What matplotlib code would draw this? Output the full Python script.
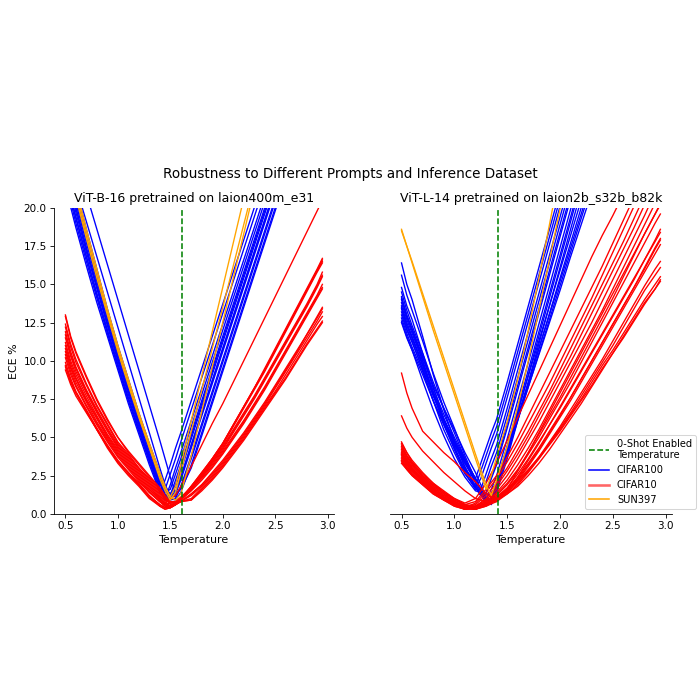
import matplotlib
matplotlib.use("Agg")
import matplotlib.pyplot as plt
from matplotlib.lines import Line2D

# ---- ViT-B-16 / laion400m_e31 ----
temps_b16_c100 = [0.5, 0.6, 0.7, 0.8, 0.9, 1.0, 1.1, 1.2, 1.3, 1.4, 1.45, 1.5, 1.55, 1.6,
                  1.7, 1.8, 1.9, 2.0, 2.1, 2.2, 2.3, 2.4, 2.5, 2.6, 2.7]
ece_b16_cifar100 = [
    [21.4, 18.7, 16.2, 13.8, 11.6, 9.4, 7.2, 5.2, 3.2, 1.4, 2.2, 3.2, 4.3, 5.3, 7.4, 9.5, 11.6, 13.7, 15.8, 17.9, 20.0, 22.1, 24.2, 26.3, 28.4],
    [21.8, 19.0, 16.5, 14.1, 11.8, 9.6, 7.4, 5.4, 3.4, 1.5, 1.0, 1.9, 3.0, 4.0, 6.1, 8.2, 10.3, 12.4, 14.5, 16.6, 18.7, 20.8, 22.9, 25.0, 27.1],
    [22.1, 19.4, 16.8, 14.4, 12.0, 9.8, 7.6, 5.5, 3.6, 1.7, 0.9, 1.2, 2.2, 3.2, 5.3, 7.4, 9.5, 11.6, 13.7, 15.8, 17.9, 20.0, 22.1, 24.2, 26.3],
    [22.0, 19.3, 16.8, 14.3, 12.0, 9.7, 7.5, 5.5, 3.5, 1.7, 0.9, 0.9, 1.4, 2.4, 4.5, 6.6, 8.7, 10.8, 12.9, 15.0, 17.1, 19.2, 21.3, 23.4, 25.5],
    [22.5, 19.7, 17.1, 14.7, 12.3, 10.0, 7.8, 5.7, 3.7, 1.9, 1.6, 2.6, 3.6, 4.7, 6.8, 8.9, 11.0, 13.1, 15.2, 17.3, 19.4, 21.5, 23.6, 25.7, 27.8],
    [22.8, 20.0, 17.4, 14.9, 12.5, 10.2, 8.0, 5.9, 3.9, 2.0, 1.2, 1.0, 1.8, 2.8, 4.9, 7.0, 9.1, 11.2, 13.3, 15.4, 17.5, 19.6, 21.7, 23.8, 25.9],
    [22.7, 20.0, 17.3, 14.9, 12.4, 10.1, 8.0, 5.9, 3.8, 2.0, 1.3, 0.9, 1.0, 1.8, 3.8, 5.9, 8.0, 10.1, 12.2, 14.3, 16.4, 18.5, 20.6, 22.7, 24.8],
    [23.1, 20.3, 17.7, 15.2, 12.7, 10.4, 8.2, 6.1, 4.1, 2.2, 1.4, 1.6, 2.6, 3.6, 5.7, 7.8, 9.9, 12.0, 14.1, 16.2, 18.3, 20.4, 22.5, 24.6, 26.7],
    [23.5, 20.7, 18.0, 15.4, 13.0, 10.6, 8.4, 6.3, 4.3, 2.3, 1.5, 1.0, 1.3, 2.2, 4.3, 6.4, 8.5, 10.6, 12.7, 14.8, 16.9, 19.0, 21.1, 23.2, 25.3],
    [23.4, 20.6, 18.0, 15.4, 12.9, 10.6, 8.4, 6.2, 4.2, 2.3, 1.5, 1.0, 0.9, 1.4, 3.2, 5.3, 7.4, 9.5, 11.6, 13.7, 15.8, 17.9, 20.0, 22.1, 24.2],
    [23.8, 21.0, 18.3, 15.7, 13.2, 10.8, 8.6, 6.5, 4.4, 2.5, 1.7, 1.3, 1.9, 3.0, 5.1, 7.2, 9.3, 11.4, 13.5, 15.6, 17.7, 19.8, 21.9, 24.0, 26.1],
    [24.2, 21.3, 18.6, 16.0, 13.4, 11.0, 8.8, 6.6, 4.6, 2.7, 1.8, 1.2, 1.1, 1.7, 3.6, 5.7, 7.8, 9.9, 12.0, 14.1, 16.2, 18.3, 20.4, 22.5, 24.6],
    [23.7, 21.4, 19.1, 16.8, 14.5, 12.2, 9.9, 7.6, 5.3, 3.0, 1.9, 1.2, 1.4, 2.4, 4.5, 6.6, 8.7, 10.8, 12.9, 15.0, 17.1, 19.2, 21.3, 23.4, 25.5],
    [25.5, 23.2, 20.9, 18.6, 16.3, 14.0, 11.7, 9.4, 7.1, 4.8, 3.6, 2.4, 1.3, 1.6, 3.0, 5.1, 7.2, 9.3, 11.4, 13.5, 15.6, 17.7, 19.8, 21.9, 24.0],
]
ece_b16_sun397 = [
    [23.8, 21.0, 18.3, 15.7, 13.2, 10.8, 8.6, 6.5, 4.4, 2.5, 1.7, 1.1, 1.8, 3.2, 6.1, 9.0, 11.9, 14.8, 17.7, 20.6, 23.5, 26.4, 29.3, 32.2, 35.1],
    [24.2, 21.3, 18.6, 16.0, 13.4, 11.0, 8.8, 6.6, 4.6, 2.7, 1.8, 1.1, 0.9, 1.3, 3.8, 6.7, 9.6, 12.5, 15.4, 18.3, 21.2, 24.1, 27.0, 29.9, 32.8],
    [23.5, 20.7, 18.0, 15.4, 13.0, 10.6, 8.4, 6.3, 4.3, 2.3, 1.5, 0.9, 1.4, 2.7, 5.4, 8.1, 10.8, 13.5, 16.2, 18.9, 21.6, 24.3, 27.0, 29.7, 32.4],
]
temps_b16_c10 = [0.5, 0.55, 0.6, 0.7, 0.8, 0.9, 1.0, 1.1, 1.2, 1.3, 1.4, 1.45, 1.5, 1.55, 1.6,
                 1.7, 1.8, 1.9, 2.0, 2.1, 2.2, 2.3, 2.4, 2.5, 2.6, 2.7, 2.8, 2.9, 2.95]
ece_b16_cifar10 = [
    [13.0, 11.6, 10.6, 9.0, 7.5, 6.2, 5.0, 4.1, 3.3, 2.5, 1.7, 1.2, 0.8, 0.7, 1.0, 1.8, 2.7, 3.6, 4.6, 5.8, 7.0, 8.2, 9.4, 10.7, 12.0, 13.3, 14.6, 15.9, 16.6],
    [12.4, 11.1, 10.1, 8.5, 7.1, 5.9, 4.7, 3.9, 3.0, 2.3, 1.5, 1.0, 0.6, 0.7, 1.0, 1.8, 2.6, 3.5, 4.5, 5.7, 6.9, 8.1, 9.3, 10.6, 11.9, 13.2, 14.5, 15.8, 16.4],
    [11.7, 10.4, 9.5, 8.0, 6.7, 5.5, 4.4, 3.6, 2.8, 2.0, 1.2, 0.8, 0.5, 0.7, 1.0, 1.7, 2.5, 3.4, 4.3, 5.4, 6.5, 7.6, 8.8, 10.0, 11.2, 12.4, 13.6, 14.9, 15.6],
    [11.0, 9.8, 8.9, 7.5, 6.3, 5.1, 4.1, 3.3, 2.5, 1.7, 1.0, 0.6, 0.4, 0.6, 0.9, 1.7, 2.6, 3.6, 4.6, 5.8, 7.0, 8.2, 9.5, 10.8, 12.1, 13.4, 14.7, 16.0, 16.7],
    [10.4, 9.3, 8.4, 7.1, 5.9, 4.8, 3.8, 3.0, 2.2, 1.4, 0.8, 0.5, 0.4, 0.6, 0.9, 1.6, 2.4, 3.3, 4.2, 5.3, 6.4, 7.5, 8.7, 9.9, 11.1, 12.3, 13.5, 14.8, 15.5],
    [9.9, 8.85, 8.0, 6.8, 5.6, 4.5, 3.5, 2.7, 2.0, 1.2, 0.6, 0.4, 0.5, 0.7, 0.9, 1.5, 2.2, 3.0, 3.9, 4.9, 5.9, 7.0, 8.1, 9.3, 10.5, 11.7, 12.9, 14.1, 14.7],
    [9.4, 8.45, 7.7, 6.6, 5.5, 4.3, 3.3, 2.5, 1.8, 1.0, 0.5, 0.3, 0.4, 0.6, 0.8, 1.2, 1.8, 2.5, 3.3, 4.2, 5.1, 6.1, 7.1, 8.2, 9.3, 10.4, 11.5, 12.6, 13.2],
    [12.9, 11.5, 10.5, 8.9, 7.4, 6.1, 5.0, 4.0, 3.2, 2.4, 1.6, 1.1, 0.7, 0.8, 1.1, 1.7, 2.4, 3.2, 4.1, 5.1, 6.1, 7.2, 8.3, 9.5, 10.7, 11.9, 13.1, 14.3, 15.0],
    [12.2, 10.9, 9.9, 8.4, 7.0, 5.8, 4.6, 3.8, 3.0, 2.2, 1.4, 1.0, 0.8, 0.8, 0.8, 0.9, 1.6, 2.3, 3.1, 4.0, 4.9, 5.9, 6.9, 7.9, 8.9, 10.0, 11.1, 12.1, 12.6],
    [11.5, 10.3, 9.3, 7.9, 6.6, 5.4, 4.3, 3.5, 2.7, 1.9, 1.1, 0.7, 0.5, 0.6, 0.8, 1.3, 1.9, 2.6, 3.4, 4.3, 5.2, 6.2, 7.2, 8.3, 9.4, 10.5, 11.7, 12.9, 13.5],
    [10.8, 9.6, 8.8, 7.4, 6.2, 5.0, 4.0, 3.2, 2.4, 1.6, 0.9, 0.7, 1.0, 1.2, 1.8, 3.1, 4.5, 5.9, 7.2, 8.6, 10.0, 11.4, 12.8, 14.2, 15.6, 17.0, 18.4, 19.8, 20.5],
    [10.2, 9.1, 8.3, 7.0, 5.8, 4.7, 3.7, 2.9, 2.1, 1.4, 0.8, 0.6, 0.7, 0.8, 0.8, 1.0, 1.7, 2.4, 3.2, 4.1, 5.0, 6.0, 7.0, 8.0, 9.1, 10.2, 11.3, 12.4, 12.9],
    [9.7, 8.7, 7.9, 6.7, 5.5, 4.4, 3.4, 2.7, 1.9, 1.1, 0.6, 0.4, 0.4, 0.6, 0.9, 1.6, 2.5, 3.4, 4.4, 5.5, 6.6, 7.7, 8.9, 10.1, 11.3, 12.5, 13.7, 15.0, 15.8],
    [9.6, 8.6, 7.9, 6.7, 5.5, 4.4, 3.4, 2.6, 1.9, 1.1, 0.5, 0.3, 0.4, 0.6, 0.9, 1.8, 2.7, 3.6, 4.6, 5.8, 7.0, 8.2, 9.4, 10.7, 12.0, 13.3, 14.6, 15.9, 16.5],
    [11.9, 10.6, 9.6, 8.1, 6.8, 5.6, 4.5, 3.7, 2.9, 2.1, 1.3, 0.9, 0.7, 0.7, 0.8, 0.9, 1.5, 2.2, 3.0, 3.9, 4.8, 5.8, 6.8, 7.8, 8.8, 9.9, 11.0, 12.0, 12.5],
    [11.2, 10.0, 9.1, 7.7, 6.4, 5.2, 4.2, 3.4, 2.6, 1.8, 1.0, 0.6, 0.5, 0.6, 0.8, 1.3, 1.9, 2.7, 3.5, 4.4, 5.3, 6.3, 7.3, 8.4, 9.5, 10.6, 11.7, 12.8, 13.4],
    [10.6, 9.5, 8.6, 7.3, 6.0, 4.9, 3.9, 3.1, 2.3, 1.5, 0.8, 0.5, 0.5, 0.7, 1.0, 1.6, 2.3, 3.1, 4.0, 5.0, 6.0, 7.1, 8.2, 9.4, 10.6, 11.8, 13.0, 14.2, 14.8],
]
zero_shot_temp_b16 = 1.61

# ---- ViT-L-14 / laion2b_s32b_b82k ----
temps_l14_c100 = [0.5, 0.55, 0.6, 0.7, 0.8, 0.9, 1.0, 1.1, 1.2, 1.25, 1.3, 1.35, 1.4,
                  1.5, 1.6, 1.7, 1.8, 1.9, 2.0, 2.1, 2.2, 2.3, 2.4]
ece_l14_cifar100 = [
    [16.4, 15.0, 14.0, 11.6, 9.1, 6.8, 4.8, 3.0, 1.8, 2.8, 3.8, 4.8, 5.7, 8.1, 10.6, 13.1, 15.6, 18.1, 20.6, 23.1, 25.6, 28.1, 30.6],
    [15.6, 14.3, 13.3, 11.3, 9.2, 7.3, 5.6, 3.8, 2.2, 1.4, 0.6, 1.1, 2.0, 4.4, 6.9, 9.4, 11.9, 14.4, 16.9, 19.4, 21.9, 24.4, 26.9],
    [14.8, 13.6, 12.7, 10.5, 8.3, 6.2, 4.4, 2.8, 2.3, 3.3, 4.3, 5.3, 6.2, 8.6, 11.1, 13.6, 16.1, 18.6, 21.1, 23.6, 26.1, 28.6, 31.1],
    [14.5, 13.3, 12.3, 10.5, 8.6, 6.9, 5.3, 3.6, 2.0, 1.2, 1.3, 2.3, 3.2, 5.6, 8.1, 10.6, 13.1, 15.6, 18.1, 20.6, 23.1, 25.6, 28.1],
    [14.2, 13.0, 12.1, 10.3, 8.2, 6.5, 5.0, 3.6, 2.3, 1.6, 0.9, 1.0, 2.0, 4.1, 6.2, 8.3, 10.4, 12.5, 14.6, 16.8, 18.9, 21.0, 23.1],
    [14.0, 12.9, 12.0, 10.0, 7.8, 5.9, 4.2, 2.7, 1.6, 1.6, 2.6, 3.6, 4.5, 6.9, 9.4, 11.9, 14.4, 16.9, 19.4, 21.9, 24.4, 26.9, 29.4],
    [13.8, 12.7, 11.8, 10.0, 8.0, 6.2, 4.6, 3.1, 1.8, 1.2, 1.4, 2.4, 3.4, 5.9, 8.4, 10.9, 13.4, 15.9, 18.4, 20.9, 23.4, 25.9, 28.4],
    [13.6, 12.5, 11.6, 9.8, 7.9, 6.2, 4.8, 3.5, 2.3, 1.6, 1.0, 0.8, 1.4, 3.6, 6.1, 8.6, 11.1, 13.6, 16.1, 18.6, 21.1, 23.6, 26.1],
    [13.4, 12.3, 11.5, 9.7, 7.8, 6.1, 4.7, 3.4, 2.2, 1.5, 0.9, 0.7, 1.6, 3.9, 6.2, 8.5, 10.8, 13.1, 15.4, 17.7, 20.0, 22.3, 24.6],
    [13.2, 12.1, 11.3, 9.4, 7.4, 5.5, 4.0, 2.6, 1.7, 2.3, 3.3, 4.3, 5.2, 7.6, 10.1, 12.6, 15.1, 17.6, 20.1, 22.6, 25.1, 27.6, 30.1],
    [13.0, 12.0, 11.2, 9.5, 7.7, 6.1, 4.7, 3.3, 2.1, 1.5, 0.8, 1.0, 2.1, 4.4, 6.7, 9.0, 11.3, 13.6, 15.9, 18.2, 20.5, 22.8, 25.1],
    [12.8, 11.8, 10.9, 9.3, 7.4, 5.8, 4.3, 2.9, 1.7, 1.2, 1.0, 1.6, 2.5, 4.9, 7.4, 9.9, 12.4, 14.9, 17.4, 19.9, 22.4, 24.9, 27.4],
    [12.6, 11.6, 10.7, 8.7, 6.8, 5.1, 3.6, 2.4, 1.5, 1.4, 2.1, 3.1, 4.0, 6.4, 8.9, 11.4, 13.9, 16.4, 18.9, 21.4, 23.9, 26.4, 28.9],
    [12.5, 11.5, 10.7, 9.1, 7.4, 5.9, 4.5, 3.3, 2.2, 1.6, 1.0, 0.9, 2.0, 4.2, 6.4, 8.6, 10.8, 13.0, 15.2, 17.4, 19.6, 21.8, 24.0],
    [13.5, 12.3, 11.5, 9.7, 7.9, 6.2, 4.8, 3.5, 2.3, 1.6, 0.9, 0.6, 1.7, 4.1, 6.6, 9.1, 11.6, 14.1, 16.6, 19.1, 21.6, 24.1, 26.6],
    [14.1, 12.9, 12.0, 10.2, 8.4, 6.9, 5.5, 4.0, 2.7, 1.9, 1.1, 0.8, 1.7, 3.9, 6.1, 8.3, 10.5, 12.7, 14.9, 17.1, 19.3, 21.5, 23.7],
]
ece_l14_sun397 = [
    [18.6, 17.5, 16.4, 14.2, 12.0, 9.9, 7.8, 5.7, 3.6, 2.6, 1.6, 2.5, 3.7, 6.0, 8.8, 12.0, 15.4, 18.9, 22.5, 26.1, 29.7, 33.3, 36.9],
    [18.5, 17.5, 16.5, 14.4, 12.3, 10.2, 8.1, 6.0, 3.9, 2.9, 1.9, 1.2, 2.2, 4.4, 7.0, 10.0, 13.3, 16.6, 19.9, 23.3, 26.7, 30.1, 33.5],
]
temps_l14_c10 = [0.5, 0.55, 0.6, 0.7, 0.8, 0.9, 1.0, 1.1, 1.2, 1.3, 1.4, 1.5, 1.6, 1.7,
                 1.8, 1.9, 2.0, 2.1, 2.2, 2.3, 2.4, 2.5, 2.6, 2.7, 2.8, 2.9, 2.95]
ece_l14_cifar10 = [
    [4.7, 4.0, 3.5, 2.7, 2.0, 1.5, 1.0, 0.7, 1.0, 2.0, 3.3, 4.8, 6.3, 7.8, 9.3, 10.8, 12.3, 13.8, 15.3, 16.8, 18.2, 19.5, 20.9, 22.3, 23.7, 25.1, 25.8],
    [4.5, 3.8, 3.3, 2.5, 1.9, 1.4, 0.9, 0.6, 0.8, 1.6, 2.5, 3.7, 5.0, 6.4, 7.8, 9.2, 10.6, 12.0, 13.4, 14.8, 16.2, 17.7, 19.2, 20.7, 22.2, 23.7, 24.5],
    [3.9, 3.3, 2.9, 2.2, 1.6, 1.1, 0.7, 0.4, 0.7, 1.4, 2.3, 3.4, 4.6, 5.9, 7.2, 8.5, 9.9, 11.3, 12.7, 14.1, 15.6, 17.1, 18.6, 20.1, 21.6, 23.1, 23.9],
    [4.3, 3.7, 3.2, 2.4, 1.8, 1.3, 0.8, 0.5, 0.6, 1.2, 2.0, 3.0, 4.2, 5.4, 6.7, 8.0, 9.4, 10.8, 12.2, 13.6, 15.0, 16.4, 17.8, 19.3, 20.8, 22.3, 23.0],
    [3.5, 3.0, 2.6, 2.0, 1.4, 1.0, 0.6, 0.3, 0.5, 1.0, 1.8, 2.8, 3.9, 5.1, 6.4, 7.7, 9.0, 10.3, 11.7, 13.1, 14.5, 15.9, 17.3, 18.7, 20.2, 21.7, 22.4],
    [4.1, 3.5, 3.0, 2.3, 1.7, 1.2, 0.8, 0.5, 0.5, 0.9, 1.6, 2.5, 3.6, 4.8, 6.0, 7.3, 8.6, 9.9, 11.2, 12.5, 13.9, 15.3, 16.7, 18.1, 19.5, 21.0, 21.7],
    [3.7, 3.2, 2.8, 2.1, 1.5, 1.0, 0.6, 0.4, 0.4, 0.8, 1.4, 2.2, 3.2, 4.3, 5.5, 6.8, 8.1, 9.4, 10.7, 12.0, 13.3, 14.7, 16.1, 17.5, 18.9, 20.3, 21.0],
    [3.3, 2.9, 2.5, 1.9, 1.3, 0.9, 0.5, 0.3, 0.4, 0.7, 1.2, 1.9, 2.8, 3.9, 5.0, 6.2, 7.4, 8.6, 9.9, 11.2, 12.5, 13.8, 15.1, 16.4, 17.7, 19.0, 19.6],
    [4.4, 3.8, 3.3, 2.5, 1.9, 1.4, 0.9, 0.6, 0.4, 0.7, 1.1, 1.7, 2.6, 3.6, 4.7, 5.8, 6.9, 8.1, 9.3, 10.5, 11.7, 12.9, 14.1, 15.3, 16.6, 17.9, 18.6],
    [3.9, 3.4, 2.9, 2.2, 1.6, 1.1, 0.7, 0.4, 0.3, 0.6, 1.0, 1.6, 2.4, 3.3, 4.3, 5.4, 6.5, 7.6, 8.8, 10.0, 11.2, 12.4, 13.6, 14.8, 16.0, 17.3, 17.9],
    [4.0, 3.5, 3.0, 2.3, 1.7, 1.2, 0.8, 0.5, 0.4, 0.6, 1.0, 1.5, 2.2, 3.1, 4.1, 5.2, 6.3, 7.4, 8.6, 9.8, 11.0, 12.2, 13.4, 14.6, 15.8, 17.0, 17.6],
    [3.6, 3.1, 2.7, 2.0, 1.4, 1.0, 0.6, 0.3, 0.3, 0.5, 0.9, 1.4, 2.0, 2.8, 3.7, 4.7, 5.7, 6.8, 7.9, 9.0, 10.1, 11.3, 12.5, 13.7, 14.9, 16.0, 16.5],
    [3.8, 3.2, 2.8, 2.1, 1.5, 1.0, 0.6, 0.4, 0.3, 0.5, 0.8, 1.3, 1.9, 2.7, 3.6, 4.6, 5.6, 6.6, 7.7, 8.8, 9.9, 11.0, 12.2, 13.4, 14.6, 15.6, 16.1],
    [4.2, 3.6, 3.1, 2.4, 1.8, 1.3, 0.8, 0.5, 0.3, 0.6, 1.0, 1.5, 2.1, 2.8, 3.6, 4.5, 5.4, 6.4, 7.4, 8.4, 9.5, 10.5, 11.5, 12.6, 13.7, 14.7, 15.3],
    [3.4, 2.9, 2.5, 1.9, 1.3, 0.9, 0.5, 0.3, 0.4, 0.6, 0.9, 1.3, 1.8, 2.5, 3.3, 4.2, 5.2, 6.2, 7.2, 8.3, 9.4, 10.5, 11.6, 12.7, 13.8, 14.7, 15.2],
    [4.6, 4.0, 3.4, 2.6, 2.0, 1.4, 1.0, 0.6, 0.5, 0.8, 1.3, 2.0, 2.9, 4.0, 5.2, 6.4, 7.6, 8.9, 10.2, 11.5, 12.8, 14.1, 15.5, 16.9, 18.3, 19.6, 20.2],
    [3.9, 3.3, 2.9, 2.2, 1.6, 1.1, 0.7, 0.4, 0.3, 0.6, 1.0, 1.6, 2.3, 3.2, 4.2, 5.3, 6.4, 7.6, 8.8, 10.0, 11.2, 12.4, 13.6, 14.8, 16.1, 17.4, 18.0],
    [3.5, 3.0, 2.6, 2.0, 1.4, 0.9, 0.6, 0.3, 0.4, 0.7, 1.1, 1.6, 2.2, 2.9, 3.7, 4.6, 5.5, 6.5, 7.5, 8.6, 9.7, 10.7, 11.8, 12.9, 14.0, 15.0, 15.5],
    [6.4, 5.6, 5.0, 4.1, 3.4, 2.7, 2.1, 1.5, 1.0, 0.8, 0.8, 1.6, 2.8, 4.0, 5.3, 6.6, 7.9, 9.2, 10.5, 11.8, 13.1, 14.4, 15.7, 17.0, 18.3, 19.6, 20.3],
    [9.2, 7.9, 6.9, 5.4, 4.7, 4.0, 3.4, 2.7, 2.1, 1.3, 0.9, 1.4, 2.4, 3.5, 4.6, 5.8, 7.0, 8.2, 9.4, 10.6, 11.8, 13.0, 14.2, 15.4, 16.6, 17.8, 18.4],
]
zero_shot_temp_l14 = 1.41

titles = ["ViT-B-16 pretrained on laion400m_e31", "ViT-L-14 pretrained on laion2b_s32b_b82k"]


def draw_panel(ax, groups, zs_temp, title):
    for temps, curves, color in groups:
        for ys in curves:
            ax.plot(temps, ys, color=color, lw=1.3)
    ax.axvline(zs_temp, color="green", ls="--", lw=1.5)
    ax.set_ylim(0, 20)
    ax.set_xlim(0.39, 3.06)
    ax.set_yticks([0, 2.5, 5, 7.5, 10, 12.5, 15, 17.5, 20])
    ax.set_title(title, fontsize=12)
    ax.set_xlabel("Temperature", fontsize=10.5)
    ax.tick_params(labelsize=10)
    ax.spines["top"].set_visible(False)
    ax.spines["right"].set_visible(False)


fig = plt.figure(figsize=(700 / 75, 700 / 75), dpi=75)
ax1 = fig.add_axes([0.077, 0.266, 0.400, 0.437])
ax2 = fig.add_axes([0.557, 0.266, 0.403, 0.437], sharey=ax1)

draw_panel(ax1, [(temps_b16_c100, ece_b16_cifar100, "blue"),
                 (temps_b16_c10, ece_b16_cifar10, "red"),
                 (temps_b16_c100, ece_b16_sun397, "orange")],
           zero_shot_temp_b16, titles[0])
draw_panel(ax2, [(temps_l14_c100, ece_l14_cifar100, "blue"),
                 (temps_l14_c10, ece_l14_cifar10, "red"),
                 (temps_l14_c100, ece_l14_sun397, "orange")],
           zero_shot_temp_l14, titles[1])

ax1.set_ylabel("ECE %", fontsize=10.5)
ax2.spines["left"].set_visible(False)
ax2.tick_params(left=False, labelleft=False)

handles = [
    Line2D([], [], color="green", ls="--", lw=1.5, label="0-Shot Enabled\nTemperature"),
    Line2D([], [], color="blue", lw=1.5, label="CIFAR100"),
    Line2D([], [], color="red", lw=2.5, alpha=0.6, label="CIFAR10"),
    Line2D([], [], color="orange", lw=1.5, label="SUN397"),
]
ax2.legend(handles=handles, loc="lower right", bbox_to_anchor=(1.085, 0.016),
           borderaxespad=0, fontsize=9.5)

fig.suptitle("Robustness to Different Prompts and Inference Dataset",
             fontsize=13, y=0.751, va="center")

fig.savefig("out.png", dpi=75)
